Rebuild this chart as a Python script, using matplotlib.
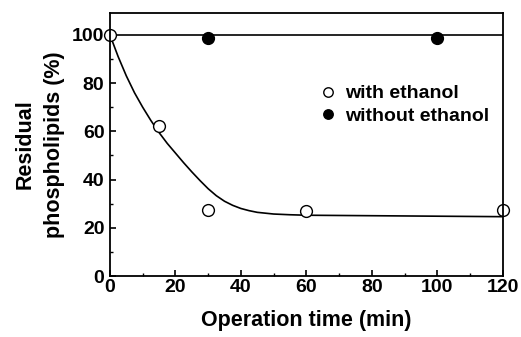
import matplotlib.pyplot as plt
from matplotlib.ticker import MultipleLocator

# measured points
t_with = [0, 15, 30, 60, 120]
v_with = [100, 62, 27.5, 27, 27.5]
t_without = [30, 100]
v_without = [98.7, 98.8]

# fitted curves
t_fit = [0, 2.5, 5, 7.5, 10, 12.5, 15, 17.5, 20, 22.5, 25, 27.5, 30, 32.5, 35, 37.5,
         40, 42.5, 45, 50, 55, 60, 80, 100, 120]
v_fit = [100, 91, 83, 76, 70, 64.5, 59.5, 55, 51, 47, 43.2, 39.6, 36.2, 33.3, 31, 29.3,
         28, 27.1, 26.4, 25.7, 25.4, 25.2, 25, 24.8, 24.6]
t_flat = [0, 120]
v_flat = [100, 100]

plt.rcParams['font.family'] = ['Liberation Sans', 'DejaVu Sans']

fig = plt.figure(figsize=(5.21, 3.37), dpi=100)
ax = fig.add_axes([0.211, 0.181, 0.754, 0.78])

ax.plot(t_fit, v_fit, color='black', lw=1.2)
ax.plot(t_flat, v_flat, color='black', lw=1.2)
ax.plot(t_with, v_with, 'o', ms=8.5, mfc='white', mec='black', mew=1.0,
        clip_on=False, label='with ethanol')
ax.plot(t_without, v_without, 'o', ms=8.5, mfc='black', mec='black',
        clip_on=False, label='without ethanol')

ax.set_xlim(0, 120)
ax.set_ylim(0, 109)
ax.xaxis.set_major_locator(MultipleLocator(20))
ax.xaxis.set_minor_locator(MultipleLocator(10))
ax.yaxis.set_major_locator(MultipleLocator(20))
ax.yaxis.set_minor_locator(MultipleLocator(10))
ax.tick_params(which='both', direction='in', top=False, right=False)
ax.tick_params(which='major', length=4, width=1.2, labelsize=14)
ax.tick_params(axis='x', which='major', pad=2)
ax.tick_params(axis='y', which='major', pad=4)
ax.tick_params(which='minor', length=2.5, width=1.0)
for lab in ax.get_xticklabels() + ax.get_yticklabels():
    lab.set_fontweight('bold')
for s in ax.spines.values():
    s.set_linewidth(1.3)

ax.set_xlabel('Operation time (min)', fontsize=15.5, fontweight='bold', labelpad=10)
ax.set_ylabel('Residual\nphospholipids (%)', fontsize=15.5, fontweight='bold',
              linespacing=1.5, labelpad=5)

leg = ax.legend(loc='upper left', bbox_to_anchor=(0.51, 0.757), frameon=False,
                handletextpad=0.4, handlelength=1.0, borderaxespad=0, markerscale=0.8,
                labelspacing=0.25, prop={'size': 14, 'weight': 'bold'})

fig.savefig('out.png', dpi=100)
